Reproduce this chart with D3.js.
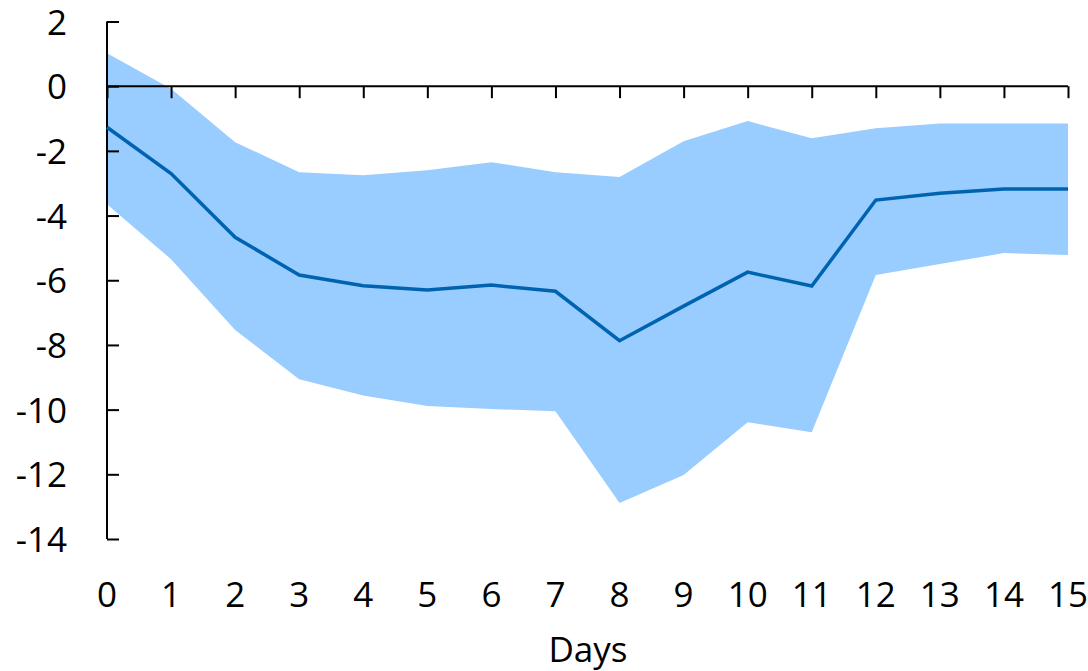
<!DOCTYPE html>
<meta charset="utf-8">
<script src="https://d3js.org/d3.v7.min.js"></script>
<style>
  body { margin: 0; background: #fff; }
  text { font-family: "Open Sans", "Noto Sans", sans-serif; fill: #000; }
</style>
<div id="chart"></div>
<script>

// days on the x axis
var days = [0, 1, 2, 3, 4, 5, 6, 7, 8, 9, 10, 11, 12, 13, 14, 15];
// central estimate
var mean = [-1.27, -2.7, -4.67, -5.84, -6.17, -6.3, -6.15, -6.34, -7.87, -6.8, -5.75, -6.18, -3.52, -3.31, -3.18, -3.18];
// confidence band
var upper = [1.02, -0.08, -1.73, -2.66, -2.75, -2.6, -2.35, -2.66, -2.81, -1.7, -1.08, -1.61, -1.3, -1.15, -1.15, -1.15];
var lower = [-3.65, -5.35, -7.54, -9.06, -9.56, -9.89, -9.98, -10.05, -12.89, -12.02, -10.39, -10.7, -5.84, -5.5, -5.16, -5.22];
// y tick labels
var yTicks = [2, 0, -2, -4, -6, -8, -10, -12, -14];

var width = 1088, height = 671;
var fontSize = "35px";

var svg = d3.select("#chart")
  .append("svg")
    .attr("width", width)
    .attr("height", height);

var x = d3.scaleLinear()
  .domain([0, 15])
  .range([107, 1068]);

var y = d3.scaleLinear()
  .domain([-14, 2])
  .range([539, 21.5]);

var rows = days.map(function(d, i) {
  return {day: d, mean: mean[i], upper: upper[i], lower: lower[i]};
});

// band
svg.append("path")
  .datum(rows)
  .attr("fill", "#99ccff")
  .attr("d", d3.area()
    .x(function(d) { return x(d.day); })
    .y0(function(d) { return y(d.lower); })
    .y1(function(d) { return y(d.upper); }));

// y axis (ticks pointing inwards)
var yAxis = svg.append("g")
  .attr("transform", "translate(" + x(0) + ",0)")
  .call(d3.axisRight(y).tickValues(yTicks).tickSize(12).tickFormat(""));
yAxis.select(".domain").attr("stroke-width", 2).attr("d", "M0," + y(2) + "V" + y(-14));
yAxis.selectAll(".tick line").attr("stroke-width", 2);

yAxis.selectAll(".tick").append("text")
  .attr("x", -40)
  .attr("dy", "0.36em")
  .attr("text-anchor", "end")
  .style("font-size", fontSize)
  .text(function(d) { return d; });

// x axis along zero
var xAxis = svg.append("g")
  .attr("transform", "translate(0," + y(0) + ")")
  .call(d3.axisBottom(x).tickValues(days).tickSize(12).tickFormat(""));
xAxis.select(".domain").attr("stroke-width", 2).attr("d", "M" + x(0) + ",0H" + x(15));
xAxis.selectAll(".tick line").attr("stroke-width", 2);

// x labels at bottom
svg.append("g")
  .selectAll("text")
  .data(days)
  .enter()
  .append("text")
    .attr("x", function(d) { return x(d); })
    .attr("y", 607)
    .attr("text-anchor", "middle")
    .style("font-size", fontSize)
    .text(function(d) { return d; });

svg.append("text")
  .attr("x", 588)
  .attr("y", 662)
  .attr("text-anchor", "middle")
  .style("font-size", fontSize)
  .text("Days");

// mean line
svg.append("path")
  .datum(rows)
  .attr("fill", "none")
  .attr("stroke", "#0063b0")
  .attr("stroke-width", 3.5)
  .attr("d", d3.line()
    .x(function(d) { return x(d.day); })
    .y(function(d) { return y(d.mean); }));

</script>
